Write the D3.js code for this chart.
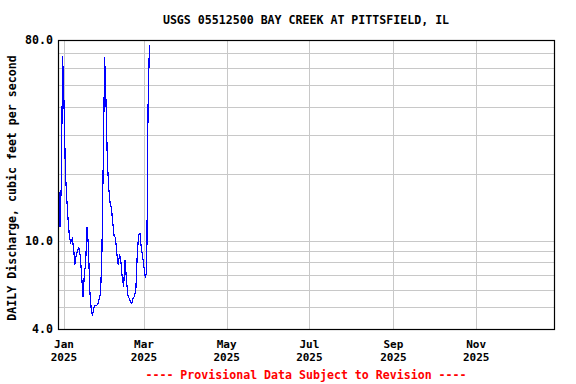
<!DOCTYPE html>
<html>
<head>
<meta charset="utf-8">
<script src="https://cdn.jsdelivr.net/npm/d3@7"></script>
<style>
  body { margin: 0; background: #fff; }
  text { font-family: "DejaVu Sans Mono", monospace; font-weight: bold; font-size: 11.6px; }
  text.xlab { font-size: 11px; }
</style>
</head>
<body>
<div id="chart"></div>
<script>
let visConfig = {
  width: 576,
  height: 384,
  padding: {
    left: 58,
    top: 40,
    bottom: 55,
    right: 22
  }
};

const title = 'USGS 05512500 BAY CREEK AT PITTSFIELD, IL';
const yLabel = 'DAILY Discharge, cubic feet per second';
const footer = '---- Provisional Data Subject to Revision ----';

// daily values, first one is 2024-12-28
const firstDay = '2024-12-28';
const flows = [
  18.8, 11.5, 17.8, 68, 42, 20.8, 15.6, 12.5, 10.4, 9.8,
  10.2, 9.4, 7.8, 8.6, 9.0, 9.3, 8.5, 7.0, 5.6, 7.0,
  8.0, 11.5, 9.5, 6.0, 5.0, 4.6, 5.0, 5.1, 5.1, 5.2,
  5.5, 5.8, 9.0, 24, 67, 42, 22.6, 17.2, 14.8, 14.0,
  12.0, 10.5, 10.3, 8.7, 7.8, 8.7, 8.0, 6.8, 6.2, 8.2,
  6.8, 5.7, 5.5, 5.3, 5.2, 5.5, 5.6, 6.0, 8.5, 10.6,
  10.8, 9.3, 8.5, 7.6, 6.8, 7.2, 40, 76
];

const xDomain = ['2024-12-27T14:00', '2025-12-28T10:00'];
const xTickDates = ['2025-01-01', '2025-03-01', '2025-05-01', '2025-07-01', '2025-09-01', '2025-11-01'];
const xTickMonths = ['Jan', 'Mar', 'May', 'Jul', 'Sep', 'Nov'];
const xTickYears = ['2025', '2025', '2025', '2025', '2025', '2025'];

const yDomain = [4, 80];
const yGridValues = [5, 6, 7, 8, 9, 10, 20, 30, 40, 50, 60, 70];
const yTickValues = [4, 10, 80];
const yTickLabels = ['4.0', '10.0', '80.0'];

let parseDay = d3.utcParse('%Y-%m-%d');
let parseTime = d3.utcParse('%Y-%m-%dT%H:%M');

let data = flows.map((v, i) => {
  return { date: d3.utcDay.offset(parseDay(firstDay), i), value: v };
});

let plotLeft = visConfig.padding.left;
let plotRight = visConfig.width - visConfig.padding.right;
let plotTop = visConfig.padding.top;
let plotBottom = visConfig.height - visConfig.padding.bottom;

let xscale = d3.scaleUtc()
  .domain(xDomain.map(parseTime))
  .range([plotLeft, plotRight]);

let yscale = d3.scaleLog()
  .domain(yDomain)
  .range([plotBottom, plotTop]);

let svg = d3.select('#chart')
  .append('svg')
  .attr('width', visConfig.width)
  .attr('height', visConfig.height);

// grid
svg.append('g')
  .selectAll('line')
  .data(yGridValues)
  .enter()
  .append('line')
  .attr('x1', plotLeft)
  .attr('x2', plotRight)
  .attr('y1', d => Math.round(yscale(d)) + 0.5)
  .attr('y2', d => Math.round(yscale(d)) + 0.5)
  .attr('stroke', '#c8c8c8')
  .attr('stroke-width', 1);

svg.append('g')
  .selectAll('line')
  .data(xTickDates)
  .enter()
  .append('line')
  .attr('x1', d => Math.round(xscale(parseDay(d))) + 0.5)
  .attr('x2', d => Math.round(xscale(parseDay(d))) + 0.5)
  .attr('y1', plotTop)
  .attr('y2', plotBottom)
  .attr('stroke', '#c8c8c8')
  .attr('stroke-width', 1);

// the flow line
let line = d3.line()
  .x(d => xscale(d.date))
  .y(d => yscale(d.value));

svg.append('path')
  .datum(data)
  .attr('d', line)
  .attr('fill', 'none')
  .attr('stroke', '#0000ff')
  .attr('stroke-width', 1.2)
  .style('shape-rendering', 'crispEdges');

// frame
svg.append('rect')
  .attr('x', plotLeft + 0.5)
  .attr('y', plotTop + 0.5)
  .attr('width', plotRight - plotLeft)
  .attr('height', plotBottom - plotTop)
  .attr('fill', 'none')
  .attr('stroke', '#000')
  .attr('stroke-width', 1.2);

// y labels
svg.append('g')
  .selectAll('text')
  .data(yTickValues)
  .enter()
  .append('text')
  .attr('x', plotLeft - 5)
  .attr('y', d => yscale(d) + 4)
  .attr('text-anchor', 'end')
  .text((d, i) => yTickLabels[i]);

// x labels, month and year as separate rows
svg.append('g')
  .selectAll('text')
  .data(xTickDates)
  .enter()
  .append('text')
  .attr('class', 'xlab')
  .attr('text-anchor', 'middle')
  .attr('x', d => xscale(parseDay(d)))
  .attr('y', 347.5)
  .text((d, i) => xTickMonths[i]);

svg.append('g')
  .selectAll('text')
  .data(xTickDates)
  .enter()
  .append('text')
  .attr('class', 'xlab')
  .attr('text-anchor', 'middle')
  .attr('x', d => xscale(parseDay(d)))
  .attr('y', 360.5)
  .text((d, i) => xTickYears[i]);

svg.append('text')
  .attr('x', (plotLeft + plotRight) / 2)
  .attr('y', 24)
  .attr('text-anchor', 'middle')
  .text(title);

svg.append('text')
  .attr('transform', 'translate(16, 188) rotate(-90)')
  .attr('text-anchor', 'middle')
  .text(yLabel);

svg.append('text')
  .attr('x', (plotLeft + plotRight) / 2)
  .attr('y', 379)
  .attr('text-anchor', 'middle')
  .attr('fill', '#ff0000')
  .text(footer);
</script>
</body>
</html>
